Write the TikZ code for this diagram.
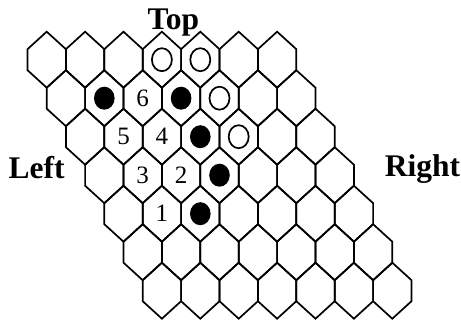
\documentclass[tikz,border=0pt]{standalone}
\usepackage{fontspec}
\setmainfont{Liberation Serif}
\usepackage{tikz}
\usetikzlibrary{positioning,calc}

\begin{document}
\begin{tikzpicture}[x=1pt, y=-1pt, line width=1.7pt,
  side/.style={font=\fontsize{31.5}{36}\selectfont\bfseries, inner sep=0pt, anchor=base},
  num/.style={font=\fontsize{25}{28}\selectfont, inner sep=0pt}]
\useasboundingbox (0,0) rectangle (461,320);
% board cells
\foreach \r in {0,...,6}
  \foreach \i in {0,...,6} {
    \coordinate (c\r\i) at ({46.7+19.2*\r+38.4*\i},{59.7+38.5*\r});
    \draw (c\r\i) ++(0,-28) -- ++(19.2,17.5) -- ++(0,21) -- ++(-19.2,17.5)
      -- ++(-19.2,-17.5) -- ++(0,-21) -- cycle;
  }
% white stones
\foreach \c in {03,04,14,24}
  \draw (c\c) ellipse [x radius=10, y radius=11.5];
% black stones
\foreach \c in {11,13,23,33,42}
  \fill (c\c) ellipse [x radius=10.3, y radius=11.5];
% move numbers
\node[num] (n6) at (c12) {6};
\node[num] (n5) at (c21) {5};
\node[num] (n4) at (c22) {4};
\node[num] (n3) at (c31) {3};
\node[num] (n2) at (c32) {2};
\node[num] (n1) at (c41) {1};
% sides
\node[side] (top) at (173.3,30) {Top};
\node[side] (left) at (36.5,178.3) {Left};
\node[side] (right) at (422.5,176.7) {Right};
\end{tikzpicture}
\end{document}
